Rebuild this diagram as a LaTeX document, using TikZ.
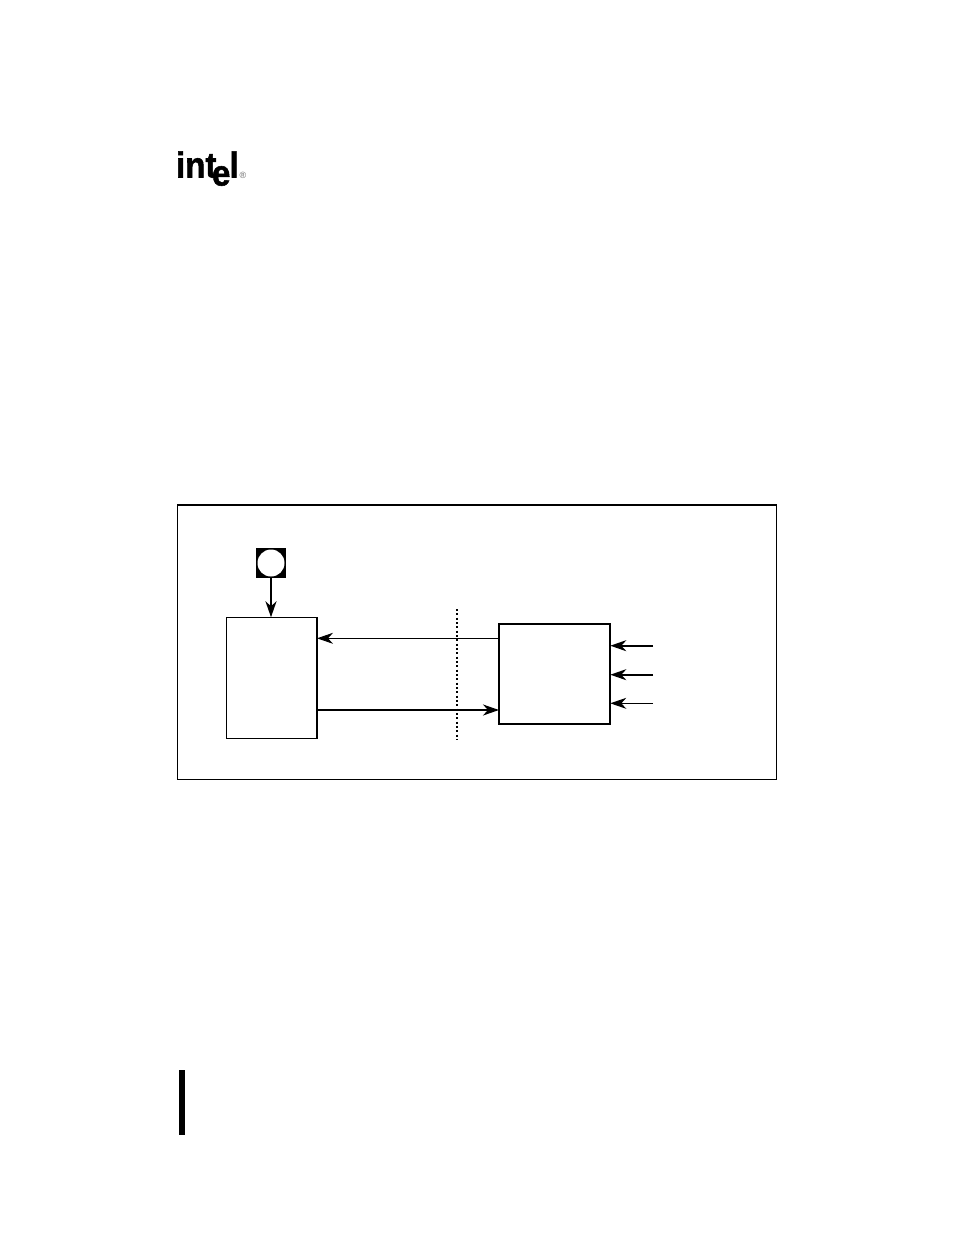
\documentclass[tikz,border=0pt]{standalone}
\usepackage{fontspec}
\setmainfont{Liberation Sans}
\newfontfamily\logofont[FakeStretch=0.92,FakeBold=1.5]{Liberation Sans Bold}
\usetikzlibrary{arrows.meta}
\tikzset{
  blockbox/.style={draw,rectangle,inner sep=0pt,outer sep=0pt},
  logotext/.style={inner sep=0pt,outer sep=0pt,anchor=base west,font=\logofont\fontsize{36}{36}\selectfont},
  headarrow/.style={-{Stealth[length=16pt,width=11pt,inset=5pt]}},
  thinline/.style={line width=1pt},
  thickline/.style={line width=2pt}
}
\begin{document}
\begin{tikzpicture}[x=1pt,y=-1pt]
\useasboundingbox[fill=white] (0,0) rectangle (954,1235);
% logo
\node[logotext] (logoint) at (176,177.5) {int};
\node[logotext] (logoe) at (212,185.5) {e};
\node[logotext] (logol) at (229.5,177.5) {l};
\node[inner sep=0pt,font=\fontsize{9}{9}\selectfont,text=black!60] (logoreg) at (243,175) {®};
% change bar
\fill (179,1070) rectangle (185,1135);
% frame
\draw[thinline] (177.5,505) rectangle (776.5,779);
\draw[thickline] (177,505)--(777,505);
% blocks
\node[blockbox,thinline,minimum width=90.3pt,minimum height=121pt] (leftblock) at (271.85,677.8) {};
\draw[thickline] (leftblock.north east)--(leftblock.south east);
\node[blockbox,thickline,minimum width=111.3pt,minimum height=100.3pt] (rightblock) at (554.65,673.85) {};
% pin
\node[rectangle,fill=black,inner sep=0pt,outer sep=0pt,minimum size=30pt] (pinbox) at (271,563) {};
\node[circle,fill=white,inner sep=0pt,outer sep=0pt,minimum size=27pt] (pincircle) at (pinbox.center) {};
\draw[headarrow,thickline] (pinbox.south)--(pinbox.south|-leftblock.north);
% boundary
\coordinate (dottop) at (457,609);
\coordinate (dotbot) at (457,739);
\draw[line width=2pt,dash pattern=on 2pt off 2.33pt] (dottop)--(dotbot);
% links between blocks
\coordinate (linkback) at (499,638.3);
\coordinate (linkout) at (317,710);
\draw[headarrow,thinline] (linkback)--(linkback-|leftblock.east);
\draw[headarrow,thickline] (linkout)--(linkout-|rightblock.west);
% inputs
\coordinate (inputa) at (653,645.7);
\coordinate (inputb) at (653,674.7);
\coordinate (inputc) at (653,703.3);
\draw[headarrow,thickline] (inputa)--(inputa-|rightblock.east);
\draw[headarrow,thickline] (inputb)--(inputb-|rightblock.east);
\draw[headarrow,thinline] (inputc)--(inputc-|rightblock.east);
\end{tikzpicture}
\end{document}
